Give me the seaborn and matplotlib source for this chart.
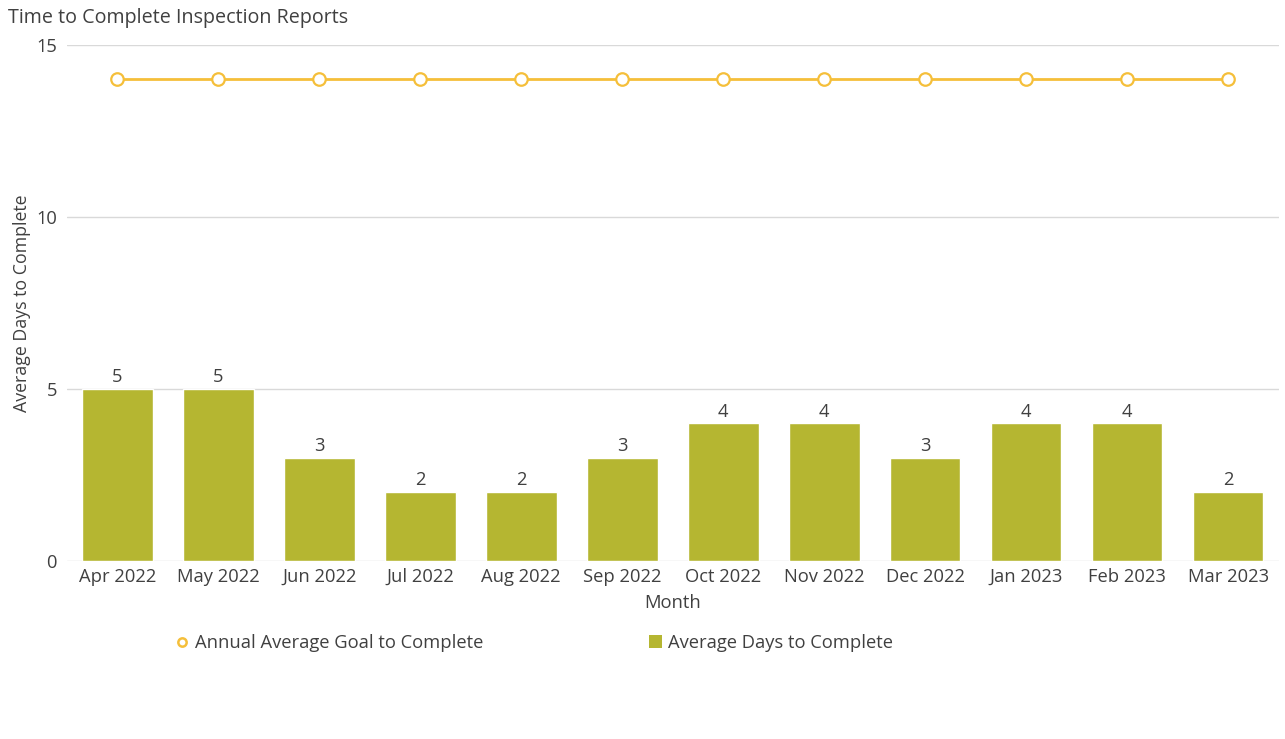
import pandas as pd
import matplotlib
matplotlib.use("Agg")
import matplotlib.pyplot as plt
import seaborn as sns
from matplotlib.lines import Line2D
from matplotlib.patches import Patch

# Chart data
months = ["Apr 2022", "May 2022", "Jun 2022", "Jul 2022", "Aug 2022", "Sep 2022",
          "Oct 2022", "Nov 2022", "Dec 2022", "Jan 2023", "Feb 2023", "Mar 2023"]
avg_days = [5, 5, 3, 2, 2, 3, 4, 4, 3, 4, 4, 2]
goal_days = [14] * 12

BAR_COLOR = "#B5B631"
LINE_COLOR = "#F5BF3A"
TEXT_COLOR = "#404040"
FS = 13.2

sns.set_style("white")
plt.rcParams["font.family"] = ["Open Sans", "DejaVu Sans"]

df = pd.DataFrame({"Month": months, "Average Days": avg_days, "Goal": goal_days})

fig = plt.figure(figsize=(12.85, 7.39), dpi=100)
ax = fig.add_axes([0.052, 0.241, 0.943, 0.698])

sns.barplot(data=df, x="Month", y="Average Days", color=BAR_COLOR, width=0.7,
            saturation=1, ax=ax, zorder=2)
ax.bar_label(ax.containers[0], padding=2, fontsize=FS, color=TEXT_COLOR)

sns.pointplot(data=df, x="Month", y="Goal", color=LINE_COLOR, markers="o",
              linestyles="-", ax=ax, markerfacecolor="white",
              markeredgecolor=LINE_COLOR, markersize=9, markeredgewidth=1.6,
              linewidth=2, zorder=3)

ax.set_xlim(-0.5, len(months) - 0.5)
ax.set_ylim(0, 15)
ax.set_yticks([0, 5, 10, 15])
ax.grid(axis="y", color="#d9d9d9", linewidth=1, zorder=0)
ax.set_axisbelow(True)
for s in ax.spines.values():
    s.set_visible(False)
ax.tick_params(axis="y", length=0, labelsize=FS, labelcolor=TEXT_COLOR, pad=7)
ax.tick_params(axis="x", length=0, labelsize=FS, labelcolor=TEXT_COLOR, pad=5)

ax.set_xlabel("Month", fontsize=FS, color=TEXT_COLOR, labelpad=6)
ax.set_ylabel("Average Days to Complete", fontsize=12.8, color=TEXT_COLOR, labelpad=4)
fig.text(0.006, 0.975, "Time to Complete Inspection Reports", fontsize=14.2,
         color=TEXT_COLOR, va="center", ha="left")

handles = [
    Line2D([], [], linestyle="none", marker="o", markerfacecolor="white",
           markeredgecolor=LINE_COLOR, markeredgewidth=1.8, markersize=6),
    Patch(facecolor=BAR_COLOR, edgecolor="none"),
]
labels = ["Annual Average Goal to Complete", "Average Days to Complete"]
fig.legend(handles, labels, loc="center left", bbox_to_anchor=(0.1238, 0.130), ncol=2,
           frameon=False, fontsize=FS, labelcolor=TEXT_COLOR, handlelength=0.7,
           handleheight=0.7, handletextpad=0.35, columnspacing=9.05)

fig.savefig("out.png", dpi=100)
